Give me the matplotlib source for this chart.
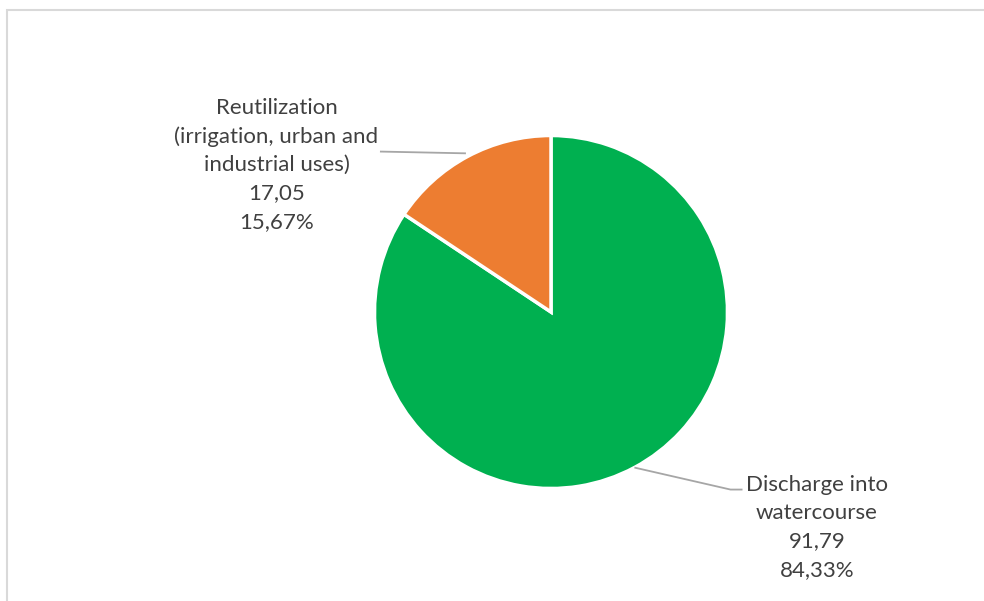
import numpy as np
import matplotlib
matplotlib.use("Agg")
import matplotlib.pyplot as plt
from matplotlib.patches import Rectangle

categories = ["Discharge into\nwatercourse", "Reutilization\n(irrigation, urban and\nindustrial uses)"]
values = [91.79, 17.05]
percent_labels = ["84,33%", "15,67%"]
value_labels = ["91,79", "17,05"]
colors = ["#00b050", "#ed7d31"]

W, H = 984, 601
fig = plt.figure(figsize=(W / 100, H / 100), dpi=100)
fig.patch.set_facecolor("white")

# outer chart frame
fig.patches.append(Rectangle((7 / W, -0.1), 1.2, 1 - 10 / H + 0.1, transform=fig.transFigure,
                             fill=False, edgecolor="#d9d9d9", linewidth=1.5))

cx, cy, r = 551, 312, 176.5
ax = fig.add_axes([(cx - r) / W, 1 - (cy + r) / H, 2 * r / W, 2 * r / H])

wedges, _ = ax.pie(values, colors=colors, startangle=90, counterclock=False,
                   radius=1, wedgeprops=dict(edgecolor="white", linewidth=2.5))
ax.set_xlim(-1, 1)
ax.set_ylim(-1, 1)
ax.axis("off")

font = dict(family=["Lato", "DejaVu Sans"], fontsize=16, color="#404040", linespacing=1.52)
line_color = "#a6a6a6"

for i, w in enumerate(wedges):
    mid = np.deg2rad((w.theta1 + w.theta2) / 2)
    sx, sy = np.cos(mid), np.sin(mid)
    text = f"{categories[i]}\n{value_labels[i]}\n{percent_labels[i]}"
    if sx > 0:
        ax.plot([sx * 1.0, 1.017, 1.085], [sy, -1.006, -1.006], color=line_color, lw=1.3,
                clip_on=False, solid_capstyle="butt")
        ax.text(1.506, -1.22, text, ha="center", va="center", clip_on=False, **font)
    else:
        ax.plot([sx * 1.02, -0.969], [sy * 1.02, 0.909], color=line_color, lw=1.3,
                clip_on=False, solid_capstyle="butt")
        ax.text(-1.555, 0.835, text, ha="center", va="center", clip_on=False, **font)

fig.savefig("out.png", dpi=100, facecolor="white")
